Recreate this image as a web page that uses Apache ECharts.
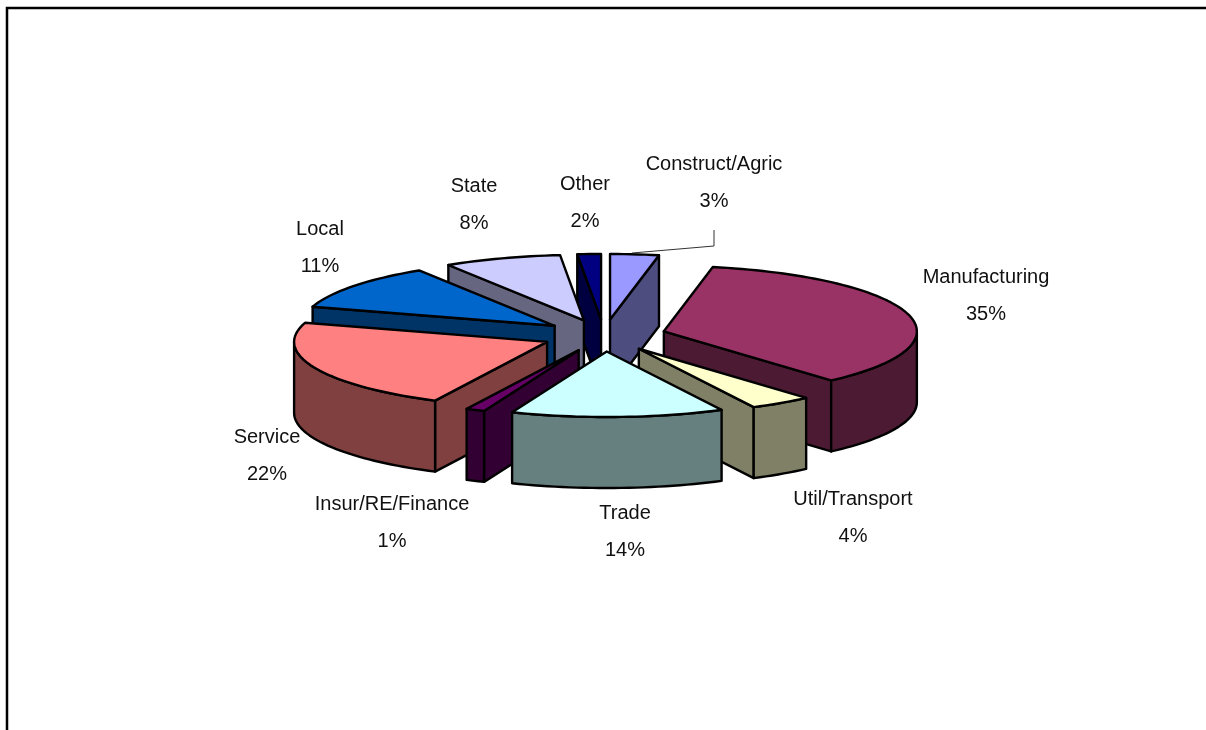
<!DOCTYPE html>
<html>
<head>
<meta charset="utf-8">
<style>html,body{margin:0;padding:0;background:#fff}#c{width:1206px;height:730px}</style>
<script src="https://cdn.jsdelivr.net/npm/echarts@6/dist/echarts.min.js"></script>
</head>
<body>
<div id="c"></div>
<script>
const categories = ['Construct/Agric','Manufacturing','Util/Transport','Trade','Insur/RE/Finance','Service','Local','State','Other'];
const shares = [3.1,35.4,4.0,13.6,1.2,22.4,11.3,7.5,1.5];
const percentLabels = ['3%','35%','4%','14%','1%','22%','11%','8%','2%'];
const topColors = ['#9999FF','#993366','#FFFFCC','#CCFFFF','#660066','#FF8080','#0066CC','#CCCCFF','#000080'];
const sideColors = ['#4D4D80','#4D1A33','#808066','#668080','#330033','#804040','#003366','#666680','#000040'];

// layout of the tilted pie
const CX = 604, CY = 335.5, RX = 253, RY = 65.5, DEPTH = 71, EXPLODE = 62;
const labelCentres = [[714,183],[986,296],[853,518],[625,532],[392,523],[267,456],[320,248],[474,205],[585,203]];

const total = shares.reduce((a,b)=>a+b,0);
let acc = 0;
const slices = shares.map((v,i)=>{
  const a = acc/total*2*Math.PI; acc += v; const b = acc/total*2*Math.PI;
  return {i,a,b,mid:(a+b)/2};
});
const paintOrder = slices.slice().sort((p,q)=>-Math.cos(p.mid)-(-Math.cos(q.mid)));

function renderSlice(params, api){
  const s = paintOrder[params.dataIndex];
  const ox = CX + EXPLODE*Math.sin(s.mid), oy = CY - EXPLODE*RY/RX*Math.cos(s.mid);
  const P = t => [ox+RX*Math.sin(t), oy-RY*Math.cos(t)];
  const down = p => [p[0], p[1]+DEPTH];
  const arc = (a,b)=>{const n=Math.max(2,Math.ceil((b-a)/0.03)),o=[];for(let k=0;k<=n;k++)o.push(P(a+(b-a)*k/n));return o;};
  const stroke = {stroke:'#000',lineWidth:2.4,lineJoin:'round'};
  const children = [];
  const poly = (pts,fill)=>children.push({type:'polygon',shape:{points:pts},style:Object.assign({fill},stroke)});
  const apex=[ox,oy];
  const side=sideColors[s.i], top=topColors[s.i];
  if(Math.sin(s.a)<0){const e=P(s.a);poly([apex,e,down(e),down(apex)],side);}
  if(Math.sin(s.b)>0){const e=P(s.b);poly([apex,e,down(e),down(apex)],side);}
  const lo=Math.max(s.a,Math.PI/2), hi=Math.min(s.b,Math.PI*1.5);
  if(hi>lo){const r=arc(lo,hi);poly(r.concat(r.slice().reverse().map(down)),side);}
  poly([apex].concat(arc(s.a,s.b)),top);
  return {type:'group',children};
}

function renderLabel(params){
  const i=params.dataIndex, c=labelCentres[i];
  return {type:'text',style:{x:c[0],y:c[1],text:categories[i]+'\n'+percentLabels[i],align:'center',verticalAlign:'middle',
    font:'20px "Liberation Sans", Arial, sans-serif',lineHeight:37.5,fill:'#111'}};
}

const chart = echarts.init(document.getElementById('c'),null,{renderer:'canvas'});
chart.setOption({
  animation:false,
  backgroundColor:'#fff',
  graphic:[
    {type:'polyline',shape:{points:[[7,730],[7,8],[1206,8]]},style:{stroke:'#000',lineWidth:2.5,fill:null}},
    {type:'polyline',z:10,shape:{points:[[632,253],[714,246],[714,230]]},style:{stroke:'#333',lineWidth:1,fill:null}}
  ],
  series:[
    {type:'custom',coordinateSystem:'none',silent:true,renderItem:renderSlice,data:paintOrder.map(s=>shares[s.i])},
    {type:'custom',coordinateSystem:'none',silent:true,renderItem:renderLabel,data:categories}
  ]
});
</script>
</body>
</html>
